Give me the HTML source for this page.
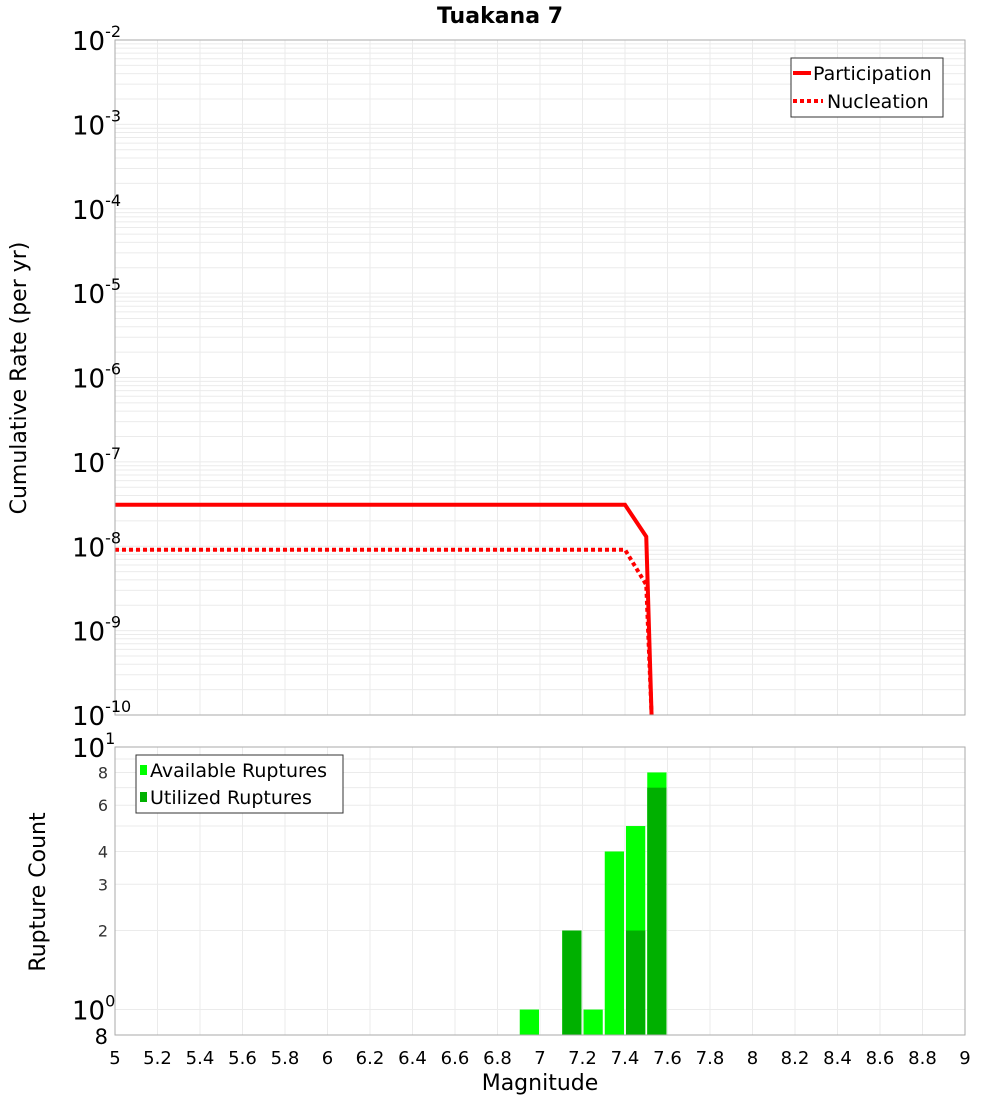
<!DOCTYPE html>
<html><head><meta charset="utf-8"><style>
body{margin:0;background:#fff;font-family:"Liberation Sans","DejaVu Sans",sans-serif}
</style></head><body>
<svg id="c" width="1000" height="1100" xmlns="http://www.w3.org/2000/svg" font-family="DejaVu Sans, Liberation Sans, sans-serif">
<text x="500" y="23" text-anchor="middle" font-size="22" font-weight="bold">Tuakana 7</text>
<text transform="translate(26,378) rotate(-90)" text-anchor="middle" font-size="22">Cumulative Rate (per yr)</text>
<text transform="translate(45,892) rotate(-90)" text-anchor="middle" font-size="22">Rupture Count</text>
<text x="540" y="1090" text-anchor="middle" font-size="22">Magnitude</text>
<g id="grid"></g><g id="marks"></g><g id="axes"></g>
</svg>
<script>
const partMags=[5,7.4,7.5,7.525];
const partRates=[3.1e-8,3.1e-8,1.3e-8,1e-10];
const nuclMags=[5,7.4,7.5,7.525];
const nuclRates=[9.1e-9,9.1e-9,3.5e-9,1e-10];
const binCenters=[6.95,7.15,7.25,7.35,7.45,7.55];
const availCounts=[1,2,1,4,5,8];
const usedCounts=[0,2,0,0,2,7];
const xTicks=[5,5.2,5.4,5.6,5.8,6,6.2,6.4,6.6,6.8,7,7.2,7.4,7.6,7.8,8,8.2,8.4,8.6,8.8,9];
const topExps=[-2,-3,-4,-5,-6,-7,-8,-9,-10];
const botTickLabels=[2,3,4,6,8];

const NS="http://www.w3.org/2000/svg";
const L=115,R=965,T1=40,B1=715,T2=747,B2=1035;
const X=m=>L+(m-5)/4*(R-L);
const Y1=v=>T1+(-2-Math.log10(v))/8*(B1-T1);
const lmin=Math.log10(0.8);
const Y2=v=>T2+(1-Math.log10(v))/(1-lmin)*(B2-T2);
function mk(p,tag,at,txt){const e=document.createElementNS(NS,tag);for(const k in at)e.setAttribute(k,at[k]);if(txt!=null)e.textContent=txt;p.appendChild(e);return e;}
const G=document.getElementById('grid'),M=document.getElementById('marks'),A=document.getElementById('axes');
for(const t of xTicks){for(const [a,b] of [[T1,B1],[T2,B2]])mk(G,'line',{x1:X(t),x2:X(t),y1:a,y2:b,stroke:'#ebebeb'});}
for(let e=-10;e<-2;e++)for(let k=1;k<10;k++){const y=Y1(k*Math.pow(10,e));mk(G,'line',{x1:L,x2:R,y1:y,y2:y,stroke:'#ebebeb'});}
for(let k=1;k<=10;k++){const y=Y2(k);mk(G,'line',{x1:L,x2:R,y1:y,y2:y,stroke:'#ebebeb'});}
mk(A,'rect',{x:L,y:T1,width:R-L,height:B1-T1,fill:'none',stroke:'#aaa'});
mk(A,'rect',{x:L,y:T2,width:R-L,height:B2-T2,fill:'none',stroke:'#aaa'});
const clip=v=>Math.min(Y1(v),B1);
let p=mk(M,'polyline',{points:partMags.map((m,i)=>X(m)+','+clip(partRates[i])).join(' '),fill:'none',stroke:'#f00','stroke-width':4});

p=mk(M,'polyline',{points:nuclMags.map((m,i)=>X(m)+','+clip(nuclRates[i])).join(' '),fill:'none',stroke:'#f00','stroke-width':4,'stroke-dasharray':'4,3'});

binCenters.forEach((c,i)=>{const x0=X(c-0.05)+1,w=X(c+0.05)-X(c-0.05)-2;
 if(availCounts[i]>0){const r=mk(M,'rect',{x:x0,y:Y2(availCounts[i]),width:w,height:B2-Y2(availCounts[i]),fill:'#00ff00'});
 }
 if(usedCounts[i]>0){const r=mk(M,'rect',{x:x0,y:Y2(usedCounts[i]),width:w,height:B2-Y2(usedCounts[i]),fill:'#00b000'});
 }
});
for(const t of xTicks){const e=mk(A,'text',{x:X(t),y:1064,'text-anchor':'middle','font-size':18},String(t));
}
for(const e of topExps){const y=Y1(Math.pow(10,e));const t=mk(A,'text',{x:72,y:y+10,'font-size':26},'10');
mk(t,'tspan',{dy:-13,'font-size':16},String(e));
}
for(const [v,lab] of [[10,'1'],[1,'0']]){const y=Y2(v);const t=mk(A,'text',{x:72,y:y+10,'font-size':26},'10');mk(t,'tspan',{dy:-13,'font-size':16},lab);
}
for(const v of botTickLabels){const t=mk(A,'text',{x:108,y:Y2(v)+6,'text-anchor':'end','font-size':16,fill:'#333'},String(v));
}
let t8=mk(A,'text',{x:108,y:B2+9,'text-anchor':'end','font-size':21},'8');
let lg=mk(A,'g',{});
mk(lg,'rect',{x:791,y:58,width:152,height:59,fill:'#fff',stroke:'#333'});
mk(lg,'line',{x1:793,x2:811,y1:73,y2:73,stroke:'#f00','stroke-width':4});
mk(lg,'text',{x:813,y:80,'font-size':19},'Participation');
mk(lg,'line',{x1:793,x2:823,y1:101,y2:101,stroke:'#f00','stroke-width':4,'stroke-dasharray':'4,3'});
mk(lg,'text',{x:827,y:108,'font-size':19},'Nucleation');
lg=mk(A,'g',{});
mk(lg,'rect',{x:136,y:755,width:207,height:58,fill:'#fff',stroke:'#333'});
mk(lg,'rect',{x:140,y:765,width:7,height:10,fill:'#00ff00'});
mk(lg,'text',{x:150,y:777,'font-size':19},'Available Ruptures');
mk(lg,'rect',{x:140,y:792,width:7,height:10,fill:'#00b000'});
mk(lg,'text',{x:150,y:804,'font-size':19},'Utilized Ruptures');
</script>
</body></html>
